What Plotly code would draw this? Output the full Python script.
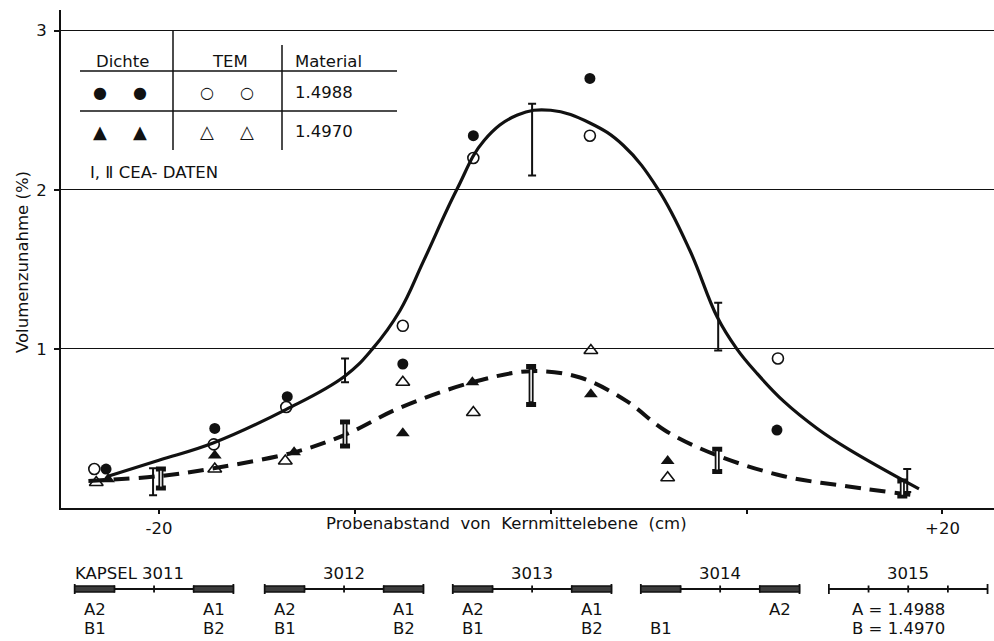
import plotly.graph_objects as go

# ---------------- data ----------------
# Dichte (density) measurements, material 1.4988 (filled circles)
dichte_88_x = [-22.7, -17.15, -13.45, -7.55, -3.95, 2.0, 11.55]
dichte_88_y = [0.245, 0.50, 0.70, 0.905, 2.34, 2.70, 0.49]
# TEM measurements, material 1.4988 (open circles)
tem_88_x = [-23.3, -17.2, -13.5, -7.55, -3.95, 2.0, 11.6]
tem_88_y = [0.245, 0.40, 0.635, 1.145, 2.20, 2.34, 0.94]
# Dichte measurements, material 1.4970 (filled triangles)
dichte_70_x = [-22.6, -17.15, -13.1, -7.55, -4.0, 2.05, 5.97]
dichte_70_y = [0.18, 0.33, 0.35, 0.47, 0.79, 0.715, 0.295]
# TEM measurements, material 1.4970 (open triangles)
tem_70_x = [-23.2, -17.15, -13.55, -7.55, -3.95, 2.05, 5.97]
tem_70_y = [0.16, 0.245, 0.295, 0.79, 0.60, 0.99, 0.19]

# CEA data I (material 1.4988) - ranges
cea1_x = [-20.3, -10.5, -0.95, 8.55, 18.2]
cea1_low = [0.08, 0.79, 2.09, 0.99, 0.10]
cea1_high = [0.25, 0.94, 2.54, 1.29, 0.245]
# CEA data II (material 1.4970) - ranges
cea2_x = [-19.9, -10.5, -1.0, 8.5, 17.95]
cea2_low = [0.125, 0.39, 0.65, 0.23, 0.075]
cea2_high = [0.245, 0.54, 0.89, 0.37, 0.17]

# fitted curves
curve_88_x = [-22.6, -20.0, -17.2, -13.5, -10.5, -9.1, -7.7, -6.5, -4.8, -3.4, -1.7, 0.0,
              2.0, 3.7, 5.5, 7.1, 8.5, 9.5, 10.5, 11.9, 13.6, 15.2, 18.8]
curve_88_y = [0.20, 0.30, 0.41, 0.62, 0.83, 1.00, 1.24, 1.55, 2.00, 2.31, 2.47, 2.50,
              2.42, 2.28, 2.00, 1.62, 1.20, 1.00, 0.85, 0.67, 0.50, 0.37, 0.12]
curve_70_x = [-23.6, -20.0, -17.2, -13.1, -10.5, -7.7, -4.0, -1.0, 1.5, 3.9, 5.8, 8.4,
              11.9, 15.2, 18.6]
curve_70_y = [0.17, 0.20, 0.25, 0.35, 0.46, 0.63, 0.79, 0.86, 0.82, 0.67, 0.49, 0.335,
              0.20, 0.135, 0.08]

# axis ticks
x_tickvals = [-20, -10, 0, 10, 20]
x_ticktext = ["-20", "", "", "", "+20"]
y_tickvals = [1, 2, 3]
y_ticktext = ["1", "2", "3"]

# capsule diagram
capsule_names = ["KAPSEL 3011", "3012", "3013", "3014", "3015"]
capsule_start = [-24.3, -14.6, -5.0, 4.6, 14.2]
capsule_length = 8.1
capsule_has_samples = [True, True, True, True, False]
sample_a_labels = [["A2", "A1"], ["A2", "A1"], ["A2", "A1"], ["", "A2"], ["", ""]]
sample_b_labels = [["B1", "B2"], ["B1", "B2"], ["B1", "B2"], ["B1", ""], ["", ""]]
material_notes = ["A = 1.4988", "B = 1.4970"]

# legend table
legend_headers = ["Dichte", "TEM", "Material"]
legend_materials = ["1.4988", "1.4970"]
legend_note = "I, Ⅱ CEA- DATEN"

# ---------------- figure ----------------
W, H = 994, 641
L, R, T, B = 61, 0, 10, 133
PW, PH = W - L - R, H - T - B
FONT = "DejaVu Sans, Liberation Sans, Arial, sans-serif"
FS = 16.5
BLACK = "#111111"


def pxx(p):
    return (p - L) / PW


def pxy(p):
    return (H - B - p) / PH


fig = go.Figure()

# curves
fig.add_trace(go.Scatter(x=curve_88_x, y=curve_88_y, mode="lines",
                         line=dict(color=BLACK, width=3.2, shape="spline", smoothing=1.15),
                         hoverinfo="skip", showlegend=False))
fig.add_trace(go.Scatter(x=curve_70_x, y=curve_70_y, mode="lines",
                         line=dict(color=BLACK, width=4, shape="spline", smoothing=1.0,
                                   dash="16px,9px"),
                         hoverinfo="skip", showlegend=False))

# CEA I bars
mid1 = [(a + b) / 2 for a, b in zip(cea1_low, cea1_high)]
half1 = [(b - a) / 2 for a, b in zip(cea1_low, cea1_high)]
fig.add_trace(go.Scatter(x=cea1_x, y=mid1, mode="markers", marker=dict(size=1, opacity=0),
                         error_y=dict(type="data", array=half1, visible=True, color=BLACK,
                                      thickness=2, width=4),
                         showlegend=False))
# CEA II bars (hollow double bars)
mid2 = [(a + b) / 2 for a, b in zip(cea2_low, cea2_high)]
half2 = [(b - a) / 2 for a, b in zip(cea2_low, cea2_high)]
fig.add_trace(go.Scatter(x=cea2_x, y=mid2, mode="markers", marker=dict(size=1, opacity=0),
                         error_y=dict(type="data", array=half2, visible=True, color=BLACK,
                                      thickness=5, width=5),
                         showlegend=False))
half2_inner = [h * 0.82 for h in half2]
fig.add_trace(go.Scatter(x=cea2_x, y=mid2, mode="markers", marker=dict(size=1, opacity=0),
                         error_y=dict(type="data", array=half2_inner, visible=True,
                                      color="white", thickness=1.5, width=0),
                         showlegend=False))

# markers
fig.add_trace(go.Scatter(x=tem_88_x, y=tem_88_y, mode="markers", name="TEM 1.4988",
                         marker=dict(symbol="circle-open", size=11, color=BLACK,
                                     line=dict(width=1.6, color=BLACK)), showlegend=False))
fig.add_trace(go.Scatter(x=dichte_88_x, y=dichte_88_y, mode="markers", name="Dichte 1.4988",
                         marker=dict(symbol="circle", size=11, color=BLACK), showlegend=False))
fig.add_trace(go.Scatter(x=tem_70_x, y=tem_70_y, mode="markers", name="TEM 1.4970",
                         marker=dict(symbol="triangle-up-open", size=12, color=BLACK,
                                     line=dict(width=1.6, color=BLACK)), showlegend=False))
fig.add_trace(go.Scatter(x=dichte_70_x, y=dichte_70_y, mode="markers", name="Dichte 1.4970",
                         marker=dict(symbol="triangle-up", size=12, color=BLACK),
                         showlegend=False))

shapes = []
annotations = []


def text(x, y, s, xref="paper", yref="paper", xanchor="center", size=FS, **kw):
    annotations.append(dict(x=x, y=y, xref=xref, yref=yref, text=s, showarrow=False,
                            xanchor=xanchor, yanchor="middle",
                            font=dict(family=FONT, size=size, color=BLACK), **kw))


# ---- legend table (top left) ----
text(pxx(122), pxy(61), legend_headers[0])
text(pxx(230), pxy(61), legend_headers[1])
text(pxx(293), pxy(61), legend_headers[2], xanchor="left")
for yy in (71, 111):
    shapes.append(dict(type="line", xref="paper", yref="paper", x0=pxx(80), x1=pxx(397),
                       y0=pxy(yy), y1=pxy(yy), line=dict(color=BLACK, width=1.5)))
shapes.append(dict(type="line", xref="paper", yref="paper", x0=pxx(173), x1=pxx(173),
                   y0=pxy(31), y1=pxy(150), line=dict(color=BLACK, width=1.5)))
shapes.append(dict(type="line", xref="paper", yref="paper", x0=pxx(282), x1=pxx(282),
                   y0=pxy(45), y1=pxy(150), line=dict(color=BLACK, width=1.5)))
for row_y, filled, hollow, mat, gs in ((92, "●", "○", legend_materials[0], 16),
                                       (131, "▲", "△", legend_materials[1], 18)):
    for cx in (100, 140):
        text(pxx(cx), pxy(row_y), filled, size=gs)
    for cx in (207, 247):
        text(pxx(cx), pxy(row_y), hollow, size=gs)
    text(pxx(293), pxy(row_y), mat, xanchor="left")
text(pxx(88), pxy(172), legend_note, xanchor="left")

# ---- axis titles ----
text(pxx(506), pxy(523), "Probenabstand  von  Kernmittelebene  (cm)")
text(pxx(22), pxy(262), "Volumenzunahme (%)", textangle=-90)

# ---- capsule diagram ----
y_line = pxy(589)
for i, name in enumerate(capsule_names):
    s = capsule_start[i]
    e = s + capsule_length
    q = capsule_length / 4
    shapes.append(dict(type="line", xref="x", yref="paper", x0=s, x1=e, y0=y_line, y1=y_line,
                       line=dict(color=BLACK, width=1.8)))
    for k in range(5):
        tall = 5 if k in (0, 4) else 3.5
        shapes.append(dict(type="line", xref="x", yref="paper", x0=s + k * q, x1=s + k * q,
                           y0=pxy(589 - tall), y1=pxy(589 + tall),
                           line=dict(color=BLACK, width=1.8)))
    if capsule_has_samples[i]:
        for a0 in (s, e - q):
            shapes.append(dict(type="rect", xref="x", yref="paper", x0=a0, x1=a0 + q,
                               y0=pxy(586), y1=pxy(592), fillcolor="#3c3c3c",
                               line=dict(color=BLACK, width=1.5)))
        centers = (s + q / 2, e - q / 2)
        for j in range(2):
            if sample_a_labels[i][j]:
                text(centers[j], pxy(609), sample_a_labels[i][j], xref="x")
            if sample_b_labels[i][j]:
                text(centers[j], pxy(628), sample_b_labels[i][j], xref="x")
    if i == 0:
        text(s - 0.1, pxy(573), name, xref="x", xanchor="left")
    else:
        text((s + e) / 2, pxy(573), name, xref="x")
    if not capsule_has_samples[i]:
        text(s + q / 2 + 0.05, pxy(609), material_notes[0], xref="x", xanchor="left")
        text(s + q / 2 + 0.05, pxy(628), material_notes[1], xref="x", xanchor="left")

fig.update_layout(
    width=W, height=H,
    margin=dict(l=L, r=R, t=T, b=B, pad=0),
    paper_bgcolor="white", plot_bgcolor="white",
    font=dict(family=FONT, size=FS, color=BLACK),
    showlegend=False,
    shapes=shapes,
    annotations=annotations,
    xaxis=dict(range=[-25.0, 22.63], tickvals=x_tickvals, ticktext=x_ticktext,
               showline=True, linecolor=BLACK, linewidth=2, ticks="outside", ticklen=4,
               tickwidth=1.5, tickcolor=BLACK, showgrid=False, zeroline=False,
               tickfont=dict(family=FONT, size=FS, color=BLACK)),
    yaxis=dict(range=[0, 3.13], tickvals=y_tickvals, ticktext=y_ticktext,
               showline=True, linecolor=BLACK, linewidth=2, ticks="outside", ticklen=5,
               tickwidth=1.5, tickcolor=BLACK, showgrid=True, gridcolor=BLACK,
               gridwidth=1.3, zeroline=False, ticklabelstandoff=4,
               tickfont=dict(family=FONT, size=FS, color=BLACK)),
)

fig.write_html("out.html")
